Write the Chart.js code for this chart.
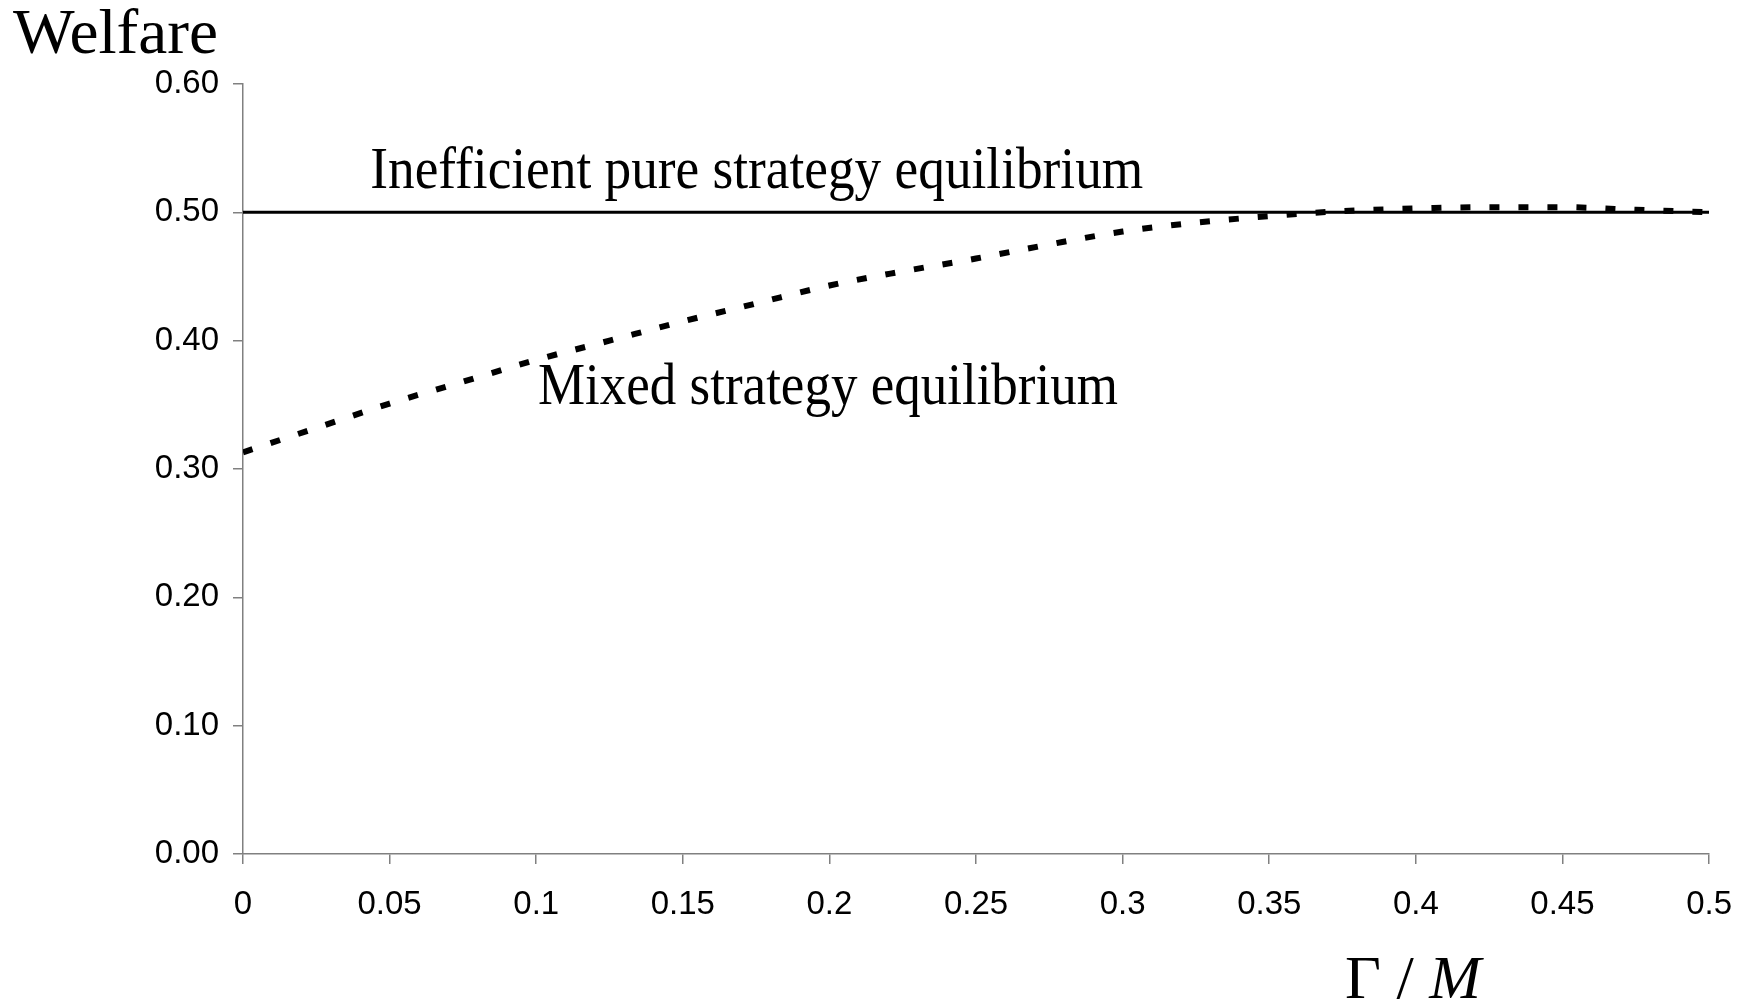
<!DOCTYPE html>
<html>
<head>
<meta charset="utf-8">
<script src="https://cdn.jsdelivr.net/npm/chart.js@4/dist/chart.umd.min.js"></script>
<style>
  html, body { margin: 0; padding: 0; background: #fff; }
  #wrap { width: 1753px; height: 1006px; }
</style>
</head>
<body>
<div id="wrap"><canvas id="welfareChart" width="1753" height="1006"></canvas></div>
<script>
// ============================================================
// DATA
// ============================================================

const gammaOverM = [0, 0.025, 0.05, 0.075, 0.1, 0.125, 0.15, 0.175, 0.2, 0.225, 0.25,
                    0.275, 0.3, 0.325, 0.35, 0.375, 0.4, 0.425, 0.45, 0.475, 0.5];
const mixedWelfare = [0.313, 0.332, 0.351, 0.368, 0.385, 0.400, 0.415, 0.429, 0.443, 0.454, 0.464,
                      0.475, 0.485, 0.492, 0.497, 0.501, 0.503, 0.504, 0.504, 0.502, 0.500];
const pureX = [0, 0.5];
const pureWelfare = [0.5, 0.5];

const yTicks = [0, 0.1, 0.2, 0.3, 0.4, 0.5, 0.6];
const xTicks = [0, 0.05, 0.1, 0.15, 0.2, 0.25, 0.3, 0.35, 0.4, 0.45, 0.5];

const yTitle = "Welfare";
const pureLabel = "Inefficient pure strategy equilibrium";
const mixedLabel = "Mixed strategy equilibrium";

// ============================================================
// TEXT HELPERS
// ============================================================

const SERIF = "'Liberation Serif', 'Times New Roman', serif";

// draw a run of [text, italic] parts, squeezed to a target width if given
function drawRuns(ctx, runs, x, y, size, targetWidth) {
  ctx.save();
  ctx.fillStyle = "#000";
  ctx.textBaseline = "middle";
  ctx.textAlign = "left";
  let total = 0;
  runs.forEach(function(r) {
    ctx.font = (r[1] ? "italic " : "") + size + "px " + SERIF;
    total += ctx.measureText(r[0]).width;
  });
  const sx = targetWidth ? targetWidth / total : 1;
  ctx.translate(x, y);
  ctx.scale(sx, 1);
  let cx = 0;
  runs.forEach(function(r) {
    ctx.font = (r[1] ? "italic " : "") + size + "px " + SERIF;
    ctx.fillText(r[0], cx, 0);
    cx += ctx.measureText(r[0]).width;
  });
  ctx.restore();
}

const labelsPlugin = {
  id: "labels",
  afterDraw(chart) {
    const ctx = chart.ctx;
    const xs = chart.scales.x;
    const ys = chart.scales.y;
    drawRuns(ctx, [[yTitle, false]], 13, 36, 64, 205);
    drawRuns(ctx, [[pureLabel, false]], xs.getPixelForValue(0.0434), ys.getPixelForValue(0.531), 59, 773);
    drawRuns(ctx, [[mixedLabel, false]], xs.getPixelForValue(0.1006), ys.getPixelForValue(0.363), 59, 580);
    drawRuns(ctx, [["\u0393 / ", false], ["M", true]], 1345, 982, 61, 136);
  }
};

// ============================================================
// CHART.JS
// ============================================================

const axisGrey = "#808080";
const tickFont = { family: "'Liberation Sans', Arial, sans-serif", size: 33 };

const ctx = document.getElementById("welfareChart").getContext("2d");

const welfareChart = new Chart(ctx, {
  type: "scatter",
  data: {
    datasets: [
      {
        label: mixedLabel,
        data: gammaOverM.map(function(g, i) { return { x: g, y: mixedWelfare[i] }; }),
        showLine: true,
        borderColor: "#000",
        borderWidth: 6,
        borderDash: [10, 19],
        borderCapStyle: "butt",
        cubicInterpolationMode: "monotone",
        pointRadius: 0
      },
      {
        label: pureLabel,
        data: pureX.map(function(g, i) { return { x: g, y: pureWelfare[i] }; }),
        showLine: true,
        borderColor: "#000",
        borderWidth: 3,
        pointRadius: 0
      }
    ]
  },
  options: {
    responsive: false,
    animation: false,
    layout: { padding: { top: 84, right: 43, bottom: 0, left: 0 } },
    plugins: {
      legend: { display: false },
      tooltip: { enabled: false }
    },
    scales: {
      x: {
        type: "linear",
        min: 0,
        max: 0.5,
        afterBuildTicks: function(scale) {
          scale.ticks = xTicks.map(function(v) { return { value: v }; });
        },
        afterFit: function(scale) { scale.height = 152; },
        grid: { drawOnChartArea: false, drawTicks: true, tickLength: 10, color: axisGrey, lineWidth: 1.5 },
        border: { display: true, color: axisGrey, width: 1.5 },
        ticks: {
          color: "#000",
          font: tickFont,
          padding: 21,
          maxRotation: 0,
          callback: function(v) { return String(Number(v.toFixed(2))); }
        }
      },
      y: {
        type: "linear",
        min: 0,
        max: 0.6,
        afterBuildTicks: function(scale) {
          scale.ticks = yTicks.map(function(v) { return { value: v }; });
        },
        afterFit: function(scale) { scale.width = 243; },
        grid: { drawOnChartArea: false, drawTicks: true, tickLength: 10, color: axisGrey, lineWidth: 1.5 },
        border: { display: true, color: axisGrey, width: 1.5 },
        ticks: {
          color: "#000",
          font: tickFont,
          padding: 14,
          callback: function(v) { return v.toFixed(2); }
        }
      }
    }
  },
  plugins: [labelsPlugin]
});
</script>
</body>
</html>
